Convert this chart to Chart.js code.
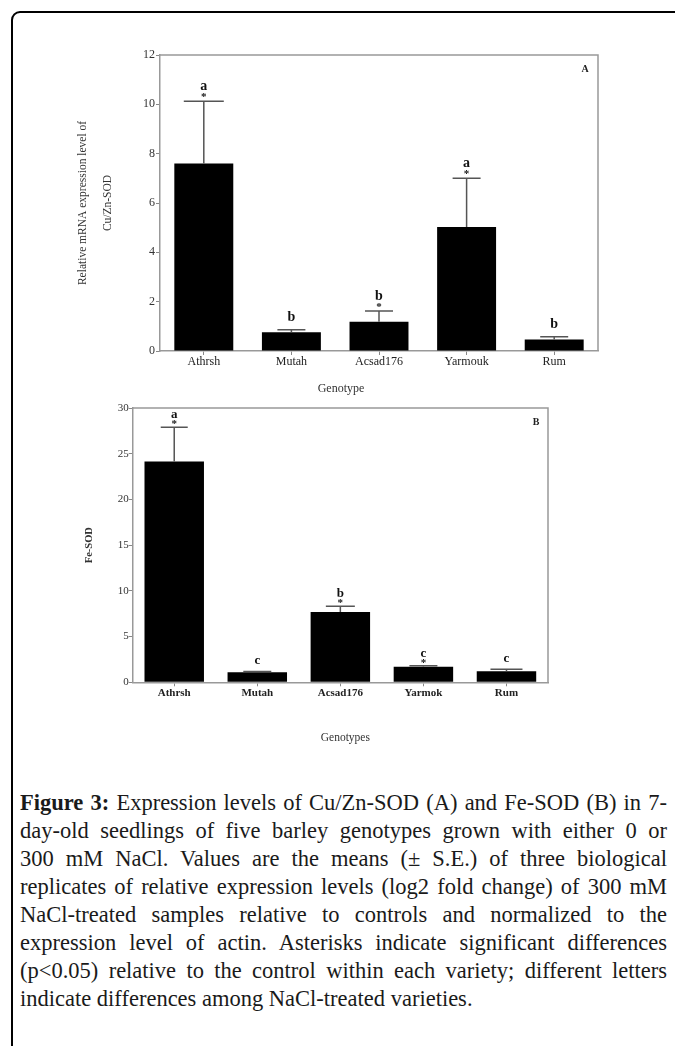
<!DOCTYPE html>
<html>
<head>
<meta charset="utf-8">
<script src="https://cdn.jsdelivr.net/npm/chart.js@4.4.1/dist/chart.umd.min.js"></script>
<style>
  html, body { margin: 0; padding: 0; background: #fff; }
  body { width: 675px; height: 1046px; position: relative; overflow: hidden; }
  #frame { position: absolute; left: 11px; top: 11px; width: 720px; height: 1100px;
           border: 2px solid #000; border-radius: 9px; box-sizing: border-box; }
  .box { position: absolute; left: 0; }
  #boxA { top: 0; }
  #boxB { top: 400px; }
  #caption { position: absolute; left: 20px; top: 789px; width: 647px;
             font-family: "Liberation Serif", serif; font-size: 22.5px; line-height: 28px; color: #1a1a1a; }
  #caption div { text-align: justify; text-align-last: justify; white-space: nowrap; }
  #caption div.last { text-align-last: left; }
</style>
</head>
<body>
<div id="frame"></div>
<div class="box" id="boxA"><canvas id="chartA" width="675" height="400"></canvas></div>
<div class="box" id="boxB"><canvas id="chartB" width="675" height="360"></canvas></div>
<div id="caption">
  <div><b>Figure 3:</b> Expression levels of Cu/Zn-SOD (A) and Fe-SOD (B) in 7-</div>
  <div>day-old seedlings of five barley genotypes grown with either 0 or</div>
  <div>300 mM NaCl. Values are the means (± S.E.) of three biological</div>
  <div>replicates of relative expression levels (log2 fold change) of 300 mM</div>
  <div>NaCl-treated samples relative to controls and normalized to the</div>
  <div>expression level of actin. Asterisks indicate significant differences</div>
  <div>(p&lt;0.05) relative to the control within each variety; different letters</div>
  <div class="last">indicate differences among NaCl-treated varieties.</div>
</div>
<script>
// panel A: Cu/Zn-SOD
const genotypesA = ['Athrsh', 'Mutah', 'Acsad176', 'Yarmouk', 'Rum'];
const cuznMean = [7.6, 0.76, 1.19, 5.03, 0.47];
const cuznSE = [2.52, 0.1, 0.43, 1.97, 0.11];
const lettersA = ['a', 'b', 'b', 'a', 'b'];
const starsA = [true, false, true, true, false];

// panel B: Fe-SOD
const genotypesB = ['Athrsh', 'Mutah', 'Acsad176', 'Yarmok', 'Rum'];
const feMean = [24.15, 1.1, 7.7, 1.7, 1.2];
const feSE = [3.75, 0.08, 0.62, 0.1, 0.22];
const lettersB = ['a', 'c', 'b', 'c', 'c'];
const starsB = [true, false, true, true, false];

const SERIF = 'Liberation Serif';
const AXIS = '#999';

// top + right frame lines, panel letter, x title
const framePlugin = {
  id: 'frame',
  afterDraw(chart, args, o) {
    const { ctx, chartArea: a } = chart;
    ctx.save();
    ctx.strokeStyle = AXIS;
    ctx.lineWidth = 1.5;
    ctx.beginPath();
    ctx.moveTo(a.left, a.top);
    ctx.lineTo(a.right, a.top);
    ctx.lineTo(a.right, a.bottom);
    ctx.stroke();
    ctx.fillStyle = '#222';
    ctx.textAlign = 'center';
    ctx.textBaseline = 'middle';
    ctx.font = o.panelFont;
    ctx.fillText(o.panel, a.right - o.panelDx, a.top + o.panelDy);
    ctx.font = o.titleFont;
    ctx.fillStyle = '#333';
    ctx.fillText(o.title, (a.left + a.right) / 2 + o.titleDx, o.titleY);
    ctx.restore();
  }
};

// error bars, significance letters and asterisks
const errPlugin = {
  id: 'errbars',
  afterDatasetsDraw(chart, args, o) {
    const { ctx, scales: { x, y } } = chart;
    const vals = chart.data.datasets[0].data;
    ctx.save();
    ctx.strokeStyle = '#555';
    ctx.lineWidth = 1.5;
    vals.forEach((v, i) => {
      const cx = x.getPixelForValue(i);
      const base = y.getPixelForValue(v);
      const top = y.getPixelForValue(v + o.se[i]);
      const half = o.caps[i] / 2;
      ctx.beginPath();
      ctx.moveTo(cx, base);
      ctx.lineTo(cx, top);
      ctx.moveTo(cx - half, top);
      ctx.lineTo(cx + half, top);
      ctx.stroke();
      ctx.fillStyle = '#111';
      ctx.textAlign = 'center';
      ctx.textBaseline = 'middle';
      if (o.stars[i]) {
        ctx.font = o.starFont;
        ctx.fillText('*', cx, top - o.starGap);
      }
      ctx.font = o.letterFont;
      ctx.fillText(o.letters[i], cx, top - (o.stars[i] ? o.gapStar : o.gap));
    });
    ctx.restore();
  }
};

function makeChart(id, labels, values, cfg) {
  return new Chart(document.getElementById(id), {
    type: 'bar',
    data: {
      labels: labels,
      datasets: [{
        data: values,
        backgroundColor: '#000',
        borderWidth: 0,
        barPercentage: cfg.barPct,
        categoryPercentage: 1
      }]
    },
    plugins: [errPlugin, framePlugin],
    options: {
      responsive: false,
      animation: false,
      layout: { padding: cfg.padding },
      plugins: {
        legend: { display: false },
        tooltip: { enabled: false },
        errbars: cfg.err,
        frame: cfg.frame
      },
      scales: {
        x: {
          offset: true,
          grid: { drawOnChartArea: false, drawTicks: true, tickLength: 4, offset: false, color: '#888' },
          border: { color: AXIS, width: 1.5 },
          ticks: { font: cfg.xFont, color: '#222', padding: 0, maxRotation: 0 },
          afterFit: s => { s.height = cfg.xHeight; }
        },
        y: {
          min: 0,
          max: cfg.yMax,
          ticks: { stepSize: cfg.yStep, font: cfg.yFont, color: '#333', padding: cfg.yPad },
          grid: { drawOnChartArea: false, tickLength: 4, color: '#888' },
          border: { color: AXIS, width: 1.5 },
          title: cfg.yTitle,
          afterFit: s => { s.width = cfg.yWidth; }
        }
      }
    }
  });
}

makeChart('chartA', genotypesA, cuznMean, {
  barPct: 0.673,
  padding: { left: 60, right: 77, top: 55, bottom: 0 },
  xHeight: 49,
  yWidth: 100,
  yMax: 12,
  yStep: 2,
  yPad: 1,
  xFont: { family: SERIF, size: 12 },
  yFont: { family: SERIF, size: 12 },
  yTitle: {
    display: true,
    text: ['Relative mRNA expression level of', 'Cu/Zn-SOD'],
    font: { family: SERIF, size: 11.5, lineHeight: '25px' },
    color: '#333',
    padding: { top: 10.5, bottom: 0 }
  },
  err: {
    se: cuznSE, letters: lettersA, stars: starsA,
    caps: [40, 28, 28, 28, 28],
    letterFont: 'bold 14px "Liberation Serif"',
    starFont: 'bold 11px "Liberation Serif"',
    starGap: 4, gapStar: 15, gap: 12
  },
  frame: {
    panel: 'A', panelFont: 'bold 10px "Liberation Serif"', panelDx: 13, panelDy: 14,
    title: 'Genotype', titleFont: '12px "Liberation Serif"', titleDx: -38, titleY: 389
  }
});

makeChart('chartB', genotypesB, feMean, {
  barPct: 0.716,
  padding: { left: 60, right: 127, top: 8, bottom: 0 },
  xHeight: 77.7,
  yWidth: 72.7,
  yMax: 30,
  yStep: 5,
  yPad: 0,
  xFont: { family: SERIF, size: 11, weight: 'bold' },
  yFont: { family: SERIF, size: 11 },
  yTitle: {
    display: true,
    text: 'Fe-SOD',
    font: { family: SERIF, size: 10.5, weight: 'bold' },
    color: '#333',
    padding: { top: 23.4, bottom: 0 }
  },
  err: {
    se: feSE, letters: lettersB, stars: starsB,
    caps: [27, 28, 29, 28, 32],
    letterFont: 'bold 13px "Liberation Serif"',
    starFont: 'bold 11px "Liberation Serif"',
    starGap: 3, gapStar: 12.5, gap: 11
  },
  frame: {
    panel: 'B', panelFont: 'bold 10px "Liberation Serif"', panelDx: 12, panelDy: 14,
    title: 'Genotypes', titleFont: '11.5px "Liberation Serif"', titleDx: 5, titleY: 338
  }
});
</script>
</body>
</html>
